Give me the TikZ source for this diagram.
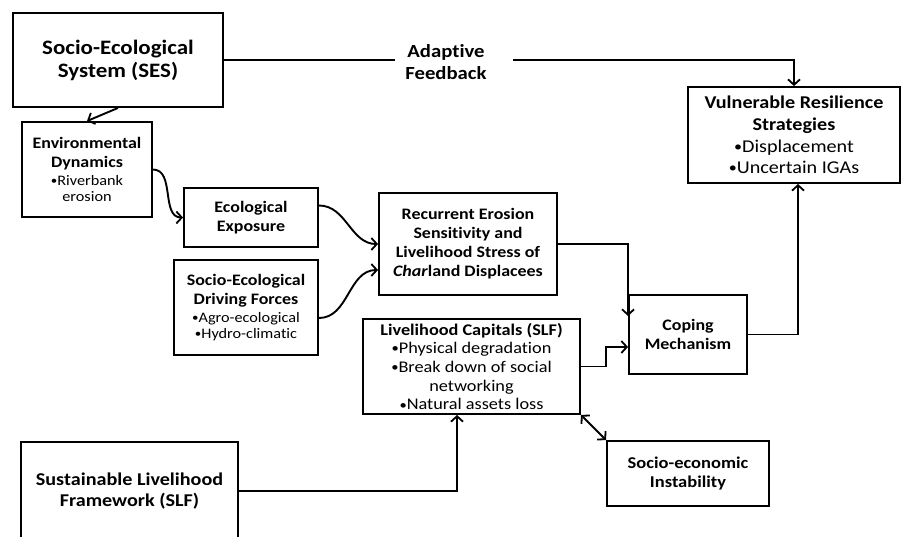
\documentclass[tikz,border=0pt]{standalone}
\usepackage{fontspec}
\setmainfont{Carlito}[FakeStretch=1.12, Ligatures=NoCommon]
\usetikzlibrary{arrows.meta,calc}
\newcommand\rgl{\mdseries\fontsize{14.5}{17}\selectfont}
\newcommand\bu{\raisebox{0.05em}{\scalebox{0.8}{•}}}
\begin{document}
\begin{tikzpicture}[x=1pt,y=-1pt,
  box/.style={draw, line width=1.9pt, align=center, inner sep=0pt},
  bf/.style={font=\bfseries\fontsize{16}{19}\selectfont},
  tip/.style={},
  conn/.style={line width=1.9pt, -{Straight Barb[length=5.5pt,width=12pt,line width=1.8pt]}},
  dconn/.style={line width=1.9pt, {Straight Barb[length=5.5pt,width=12pt,line width=1.8pt]}-{Straight Barb[length=5.5pt,width=12pt,line width=1.8pt]}},
  plain/.style={line width=1.9pt}
]
\useasboundingbox (0,0) rectangle (902,536);
\fill[white] (0,0) rectangle (902,536);
\clip (0,0) rectangle (902,536);

% nodes
\node[box, minimum width=210pt, minimum height=94pt, font=\bfseries\fontsize{20.5}{23}\selectfont] (ses) at (118,60) {Socio-Ecological\\System (SES)};
\node[align=center, inner sep=0pt, font=\bfseries\fontsize{18.5}{22}\selectfont] (fb) at (446,62) {Adaptive\\Feedback};
\coordinate (fbL) at (395,60);
\coordinate (fbR) at (513,60);
\node[box, minimum width=212pt, minimum height=96pt, font=\fontsize{18}{21.7}\selectfont] (vul) at (794,135) {\textbf{Vulnerable Resilience}\\\textbf{Strategies}\\\bu Displacement\\\bu Uncertain IGAs};
\node[box, minimum width=130pt, minimum height=95pt, bf] (env) at (87,169.5) {Environmental\\Dynamics\\[-1pt]{\rgl \bu Riverbank}\\[-3pt]{\rgl erosion}};
\node[box, minimum width=134pt, minimum height=59pt, bf] (eco) at (251,217.5) {Ecological\\Exposure};
\node[box, minimum width=144pt, minimum height=95pt, bf] (drv) at (246,307.5) {Socio-Ecological\\Driving Forces\\[-1pt]{\rgl \bu Agro-ecological}\\[-3pt]{\rgl \bu Hydro-climatic}};
\node[box, minimum width=178pt, minimum height=102pt, bf] (rec) at (468,244) {Recurrent Erosion\\Sensitivity and\\Livelihood Stress of\\\textit{Char}land Displacees};
\node[box, minimum width=217pt, minimum height=95pt, font=\fontsize{16.3}{18.7}\selectfont] (liv) at (471.5,366.5) {\textbf{Livelihood Capitals (SLF)}\\\bu Physical degradation\\\bu Break down of social\\networking\\\bu Natural assets loss};
\node[box, minimum width=118pt, minimum height=79pt, bf] (cop) at (688,334.5) {Coping\\Mechanism};
\node[box, minimum width=162pt, minimum height=65pt, font=\bfseries\fontsize{16.5}{19.5}\selectfont] (sei) at (688,473.5) {Socio-economic\\Instability};
\node[box, minimum width=217pt, minimum height=98pt, font=\bfseries\fontsize{18}{21.7}\selectfont] (slf) at (129.5,491) {Sustainable Livelihood\\Framework (SLF)};

% connectors
\draw[plain] (ses.east) -- (fbL);
\draw[conn] (fbR) -| (vul.north);
\draw[conn] (ses.south) -- (env.north);
\draw[conn] (env.east) to[out=0,in=180] (eco.west);
\draw[conn] ([yshift=12pt]eco.east) to[out=0,in=180] (rec.west);
\draw[conn] ([yshift=-10.5pt]drv.east) to[out=0,in=180] ([yshift=-26pt]rec.west);
\draw[conn] (rec.east) -| ([yshift=-22pt]cop.north west);
\draw[conn] (cop.east) -| ([xshift=4pt]vul.south);
\draw[conn] (liv.east) -- ++(25,0) |- ([yshift=-12.5pt]cop.west);
\draw[dconn] (liv.south east) -- (sei.north west);
\draw[conn] (slf.east) -| ([xshift=-14.5pt]liv.south);
\end{tikzpicture}
\end{document}
